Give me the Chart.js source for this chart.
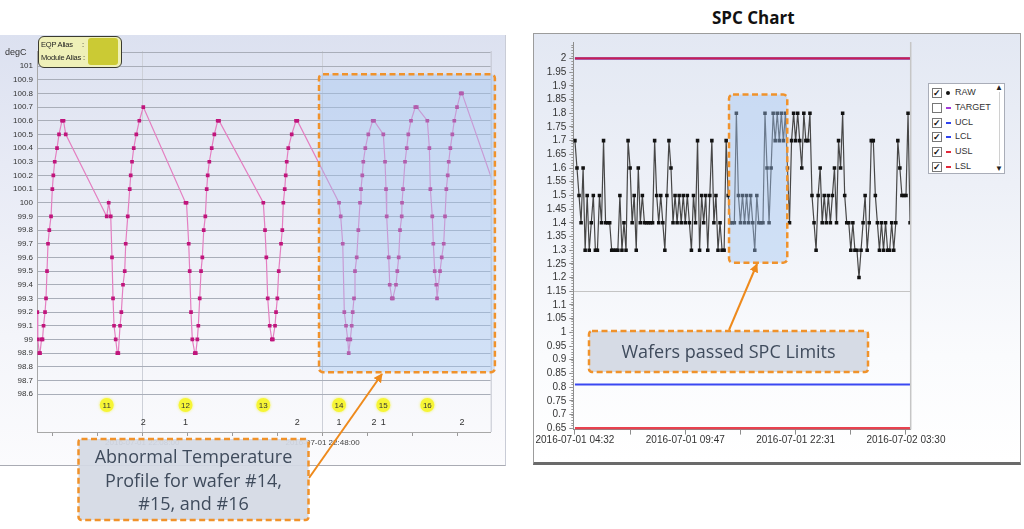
<!DOCTYPE html>
<html>
<head>
<meta charset="utf-8">
<script src="https://cdn.jsdelivr.net/npm/chart.js@4.4.1/dist/chart.umd.min.js"></script>
<style>
  body { margin: 0; width: 1024px; height: 529px; background: #fff; overflow: hidden; position: relative; }
  .abs { position: absolute; }
  #leftPanel { left: 0; top: 35px; width: 506px; height: 431px; box-sizing: border-box;
    border-right: 1px solid #c9ccd6; border-bottom: 1px solid #a9abb3;
    background: linear-gradient(to bottom, #dce1f0 0%, #e7eaf5 30%, #f4f5fa 70%, #fbfbfd 100%); }
  #rightPanel { left: 533px; top: 33px; width: 488px; height: 432px; box-sizing: border-box;
    border: 1px solid #9c9c9c; border-bottom: 3px solid #6a6a6a;
    background: linear-gradient(to bottom, #e3e8f3 0%, #edf0f7 35%, #fafbfd 75%, #ffffff 100%); }
  canvas { position: absolute; }
  .narrow { font-family: "Liberation Sans Narrow", "Liberation Sans", Arial, sans-serif; }
  #eqp { left: 38px; top: 36px; width: 84px; height: 32px; box-sizing: border-box; border: 1.5px solid #3a3a30;
    border-radius: 6px; background: #eff0b8; font-size: 7.5px; letter-spacing: -0.2px; color: #222; }
  #eqp div { position: absolute; white-space: nowrap; }
  #legend { left: 928px; top: 83px; width: 77px; height: 91px; box-sizing: border-box; background: #fff; border: 1px solid #a9adb8;
    font-family: "Liberation Sans", Arial, sans-serif; font-size: 9px; color: #333; }
  .lrow { position: absolute; left: 3px; height: 12px; width: 66px; }
  .chk { position: absolute; left: 0; top: 1px; width: 8px; height: 8px; border: 1px solid #777; background: #fff;
    font-size: 9px; line-height: 8px; text-align: center; color: #111; font-weight: bold; }
  .mk { position: absolute; left: 14px; top: 5px; width: 5px; height: 2px; }
  .lt { position: absolute; left: 23px; top: 0; line-height: 11px; }
  .callText { position: absolute; text-align: center; font-family: "Open Sans", "Noto Sans", sans-serif; font-size: 18px; color: #3f4b5c; }
</style>
</head>
<body>
<div id="leftPanel" class="abs"></div>
<canvas id="tempChart" width="506" height="431" style="left:0;top:35px"></canvas>
<div class="abs narrow" style="left:5px;top:47px;font-size:9px;color:#333">degC</div>
<div id="eqp" class="abs narrow">
  <div style="left:2px;top:3px">EQP Alias</div>
  <div style="left:43px;top:3px">:</div>
  <div style="left:2px;top:16px">Module Alias :</div>
  <div style="left:49px;top:1px;width:30px;height:27px;background:#cbca34;border-radius:3px"></div>
</div>

<div class="abs" style="left:712px;top:6px;font-family:'Open Sans',sans-serif;font-weight:700;font-size:17px;color:#111">SPC Chart</div>
<div id="rightPanel" class="abs"></div>
<canvas id="spcChart" width="488" height="432" style="left:533px;top:33px"></canvas>
<div id="legend" class="abs"></div>

<svg class="abs" width="1024" height="529" style="left:0;top:0;pointer-events:none">
  <defs>
    <marker id="ah" viewBox="0 0 10 10" refX="9" refY="5" markerWidth="4.5" markerHeight="4.5" orient="auto">
      <path d="M0,0 L10,5 L0,10 z" fill="#ee8a1c"/>
    </marker>
  </defs>
  <line x1="309" y1="478" x2="382" y2="374" stroke="#ee8a1c" stroke-width="2" marker-end="url(#ah)"/>
  <line x1="729" y1="330" x2="757" y2="264" stroke="#ee8a1c" stroke-width="2" marker-end="url(#ah)"/>
  <rect x="78.5" y="439" width="230" height="81" rx="3" fill="rgba(212,217,228,0.93)" stroke="#f0922b" stroke-width="2.5" stroke-dasharray="6 3.5"/>
  <rect x="589" y="331" width="279" height="41" rx="3" fill="rgba(212,217,228,0.95)" stroke="#f0922b" stroke-width="2.5" stroke-dasharray="6 3.5"/>
</svg>
<div class="callText" style="left:78px;top:445px;width:231px;line-height:23.5px">Abnormal Temperature<br>Profile for wafer #14,<br>#15, and #16</div>
<div class="callText" style="left:589px;top:331px;width:279px;line-height:41px">Wafers passed SPC Limits</div>

<script>
// ---------- left chart: chamber temperature profile ----------
// minutes after 2016-07-01 21:48:00
const tempMinutes = [
  -3.26, -3.15, -2.82, -2.66, -2.33, -2.11, -1.88, -1.55, -1.33, -1.11, -0.89, -0.60, -0.22, 0.07, 0.29, 0.60, 1.11, 1.55, 2.22, 2.55, 3.04,
  12.13, 12.57, 13.02, 13.30, 13.53, 13.75, 14.12, 14.48, 14.70, 15.08, 15.37, 15.74, 16.12, 16.34, 16.79, 17.23, 17.45, 17.74, 18.12, 18.69, 19.36, 20.24,
  29.60, 29.82, 30.31, 30.53, 30.82, 31.11, 31.66, 31.88, 32.22, 32.44, 32.75, 33.04, 33.33, 33.64, 33.99, 34.30, 34.52, 34.88, 35.41, 35.99, 36.74, 37.03,
  46.85, 47.23, 47.52, 47.83, 48.27, 48.74, 48.96, 49.45, 49.67, 49.96, 50.27, 50.78, 51.06, 51.29, 51.60, 51.82, 52.04, 52.39, 53.15, 54.10, 54.39,
  63.64, 64.01, 64.46, 64.81, 65.19, 65.57, 65.79, 66.14, 66.45, 66.67, 66.96, 67.18, 67.56, 67.92, 68.29, 68.51, 68.80, 69.02, 69.47, 70.13, 71.11, 71.40,
  73.46, 73.84, 74.06, 74.21, 74.66, 74.88, 75.34, 75.57, 76.27, 76.56, 76.87, 77.16, 77.54, 77.61, 77.83, 78.27, 78.65, 79.00, 79.60, 80.55, 80.87,
  83.22, 83.67, 83.89, 84.32, 84.55, 84.86, 85.21, 85.37, 86.03, 86.41, 86.85, 87.14, 87.43, 87.74, 87.96, 88.32, 88.76, 89.20, 89.80, 90.62, 90.91,
  99.33
];
const tempValues = [
  99.2, 99.0, 98.9, 98.9, 99.0, 99.0, 99.1, 99.2, 99.3, 99.5, 99.7, 99.8, 99.9, 100.1, 100.2, 100.3, 100.4, 100.5, 100.6, 100.6, 100.5,
  99.9, 100.0, 99.9, 99.6, 99.3, 99.1, 99.0, 98.9, 98.9, 99.1, 99.2, 99.4, 99.5, 99.7, 99.9, 100.1, 100.2, 100.3, 100.4, 100.5, 100.6, 100.7,
  100.0, 100.0, 99.7, 99.5, 99.2, 99.0, 98.9, 98.9, 99.0, 99.1, 99.3, 99.5, 99.6, 99.8, 99.9, 100.1, 100.2, 100.3, 100.4, 100.5, 100.6, 100.6,
  100.0, 99.8, 99.6, 99.3, 99.1, 99.0, 99.0, 99.1, 99.2, 99.3, 99.5, 99.7, 99.8, 100.0, 100.1, 100.2, 100.3, 100.4, 100.5, 100.6, 100.6,
  100.0, 99.9, 99.7, 99.2, 99.1, 99.0, 98.9, 99.0, 99.1, 99.2, 99.3, 99.5, 99.6, 99.8, 100.0, 100.1, 100.2, 100.3, 100.4, 100.5, 100.6, 100.6,
  100.5, 100.3, 100.1, 99.9, 99.6, 99.4, 99.3, 99.3, 99.4, 99.5, 99.6, 99.8, 99.9, 100.0, 100.1, 100.3, 100.4, 100.5, 100.6, 100.7, 100.7,
  100.6, 100.4, 100.1, 99.9, 99.7, 99.5, 99.4, 99.3, 99.5, 99.6, 99.7, 99.9, 100.1, 100.2, 100.3, 100.4, 100.5, 100.6, 100.7, 100.8, 100.8,
  100.0
];
const waferIds = ['11', '12', '13', '14', '15', '16'];
const waferStart = [12.13, 29.60, 46.85, 63.64, 73.46, 83.22];
const stepLabels = ['2', '1', '2', '1', '2', '1', '2'];
const stepTimes = [20.24, 29.60, 54.39, 63.64, 71.40, 73.46, 90.91];
const tempTickMinutes = [0, 10, 20, 30, 40, 50, 60, 70, 80, 90];
const tempTickLabels = ['', '', '2016-07-01 22:08:00', '', '', '', '2016-07-01 22:48:00', '', '', ''];
const tempMajorMinutes = [20, 60];
const tempYTicks = [98.6, 98.7, 98.8, 98.9, 99, 99.1, 99.2, 99.3, 99.4, 99.5, 99.6, 99.7, 99.8, 99.9,
  100, 100.1, 100.2, 100.3, 100.4, 100.5, 100.6, 100.7, 100.8, 100.9, 101, 101.1];

// ---------- right chart: SPC ----------
const spcRaw = [
  1.7, 1.6, 1.5, 1.4, 1.6, 1.3, 1.5, 1.3, 1.4, 1.5, 1.3, 1.3, 1.5, 1.4, 1.7, 1.4, 1.4, 1.4, 1.3, 1.3, 1.3,
  1.3, 1.5, 1.3, 1.4, 1.3, 1.7, 1.6, 1.4, 1.5, 1.3, 1.6, 1.4, 1.5, 1.4, 1.4, 1.4, 1.4, 1.4,
  1.7, 1.5, 1.4, 1.5, 1.4, 1.3, 1.5, 1.7, 1.6, 1.4, 1.5, 1.4, 1.5, 1.4, 1.5, 1.4,
  1.5, 1.4, 1.3, 1.5, 1.4, 1.7, 1.3, 1.5, 1.4, 1.5, 1.3, 1.5, 1.7, 1.4, 1.5, 1.3, 1.4, 1.3, 1.3, 1.7, 1.5, 1.4,
  1.4, 1.4, 1.8, 1.5, 1.4, 1.5, 1.4, 1.5, 1.4, 1.5, 1.4, 1.3, 1.5, 1.4, 1.4, 1.4,
  1.8, 1.6, 1.4, 1.6, 1.8, 1.7, 1.8, 1.7, 1.8, 1.7, 1.8, 1.6, 1.4, 1.7, 1.8, 1.7,
  1.8, 1.7, 1.6, 1.8, 1.7, 1.7, 1.8, 1.5, 1.4, 1.3, 1.5, 1.6, 1.4, 1.5, 1.4, 1.5, 1.4, 1.5, 1.6, 1.4, 1.7, 1.6, 1.8,
  1.5, 1.4, 1.4, 1.3, 1.4, 1.3, 1.3, 1.2, 1.3, 1.4, 1.5, 1.3, 1.4, 1.7, 1.7, 1.5, 1.4, 1.3,
  1.4, 1.3, 1.4, 1.3, 1.3, 1.4, 1.3, 1.4, 1.7, 1.6, 1.5, 1.5, 1.5, 1.8, 1.4
];
const uslValue = 2.0;
const uclValue = 2.0;
const lclValue = 0.81;
const lslValue = 0.65;
const spcTickIndex = [0, 27, 54, 81, 108, 135, 162];
const spcTickText = ['2016-07-01 04:32', '', '2016-07-01 09:47', '', '2016-07-01 22:31', '', '2016-07-02 03:30'];
const spcYTicks = [0.65, 0.7, 0.75, 0.8, 0.85, 0.9, 0.95, 1, 1.05, 1.1, 1.15, 1.2, 1.25, 1.3, 1.35, 1.4,
  1.45, 1.5, 1.55, 1.6, 1.65, 1.7, 1.75, 1.8, 1.85, 1.9, 1.95, 2];
const legendNames = ['RAW', 'TARGET', 'UCL', 'LCL', 'USL', 'LSL'];
const legendChecked = [true, false, true, true, true, true];
const legendColors = ['#111', '#a23bd8', '#2f43f0', '#2f43f0', '#e2283a', '#e2283a'];

const narrow = '"Liberation Sans Narrow", "Liberation Sans", Arial, sans-serif';
const leftBox = { x0: 59.2, x1: 98.2, y0: 98.76, y1: 100.94 };
const rightBox = { x0: 75.4, x1: 103.9, y0: 1.254, y1: 1.868 };

function drawHighlight(chart, box) {
  const { ctx, scales: { x, y } } = chart;
  const l = x.getPixelForValue(box.x0), r = x.getPixelForValue(box.x1);
  const t = y.getPixelForValue(box.y1), b = y.getPixelForValue(box.y0);
  ctx.save();
  ctx.beginPath();
  ctx.roundRect(l, t, r - l, b - t, 4);
  ctx.fillStyle = 'rgba(160, 196, 240, 0.42)';
  ctx.fill();
  ctx.setLineDash([6, 3.5]);
  ctx.lineWidth = 2.5;
  ctx.strokeStyle = '#f0922b';
  ctx.stroke();
  ctx.restore();
}

const tempOverlay = {
  id: 'tempOverlay',
  afterDraw(chart) {
    const { ctx, chartArea: a, scales: { x } } = chart;
    ctx.save();
    ctx.strokeStyle = '#c3c6cf';
    ctx.lineWidth = 1;
    ctx.beginPath();
    ctx.moveTo(a.right + 0.5, a.top);
    ctx.lineTo(a.right + 0.5, a.bottom);
    ctx.stroke();
    ctx.textAlign = 'center';
    ctx.textBaseline = 'middle';
    waferIds.forEach((id, i) => {
      const px = x.getPixelForValue(waferStart[i]);
      const py = a.bottom - 27;
      ctx.beginPath();
      ctx.arc(px, py, 7, 0, Math.PI * 2);
      ctx.shadowColor = 'rgba(240,240,60,0.8)';
      ctx.shadowBlur = 3;
      ctx.fillStyle = '#f6f535';
      ctx.fill();
      ctx.shadowBlur = 0;
      ctx.fillStyle = '#333';
      ctx.font = '8px ' + narrow;
      ctx.fillText(id, px, py + 0.5);
    });
    ctx.font = '9px ' + narrow;
    ctx.fillStyle = '#333';
    stepLabels.forEach((s, i) => {
      ctx.fillText(s, x.getPixelForValue(stepTimes[i]), a.bottom - 9);
    });
    ctx.restore();
    drawHighlight(chart, leftBox);
  }
};

new Chart(document.getElementById('tempChart'), {
  type: 'line',
  data: {
    datasets: [{
      data: tempMinutes.map((m, i) => ({ x: m, y: tempValues[i] })),
      borderColor: '#e47fc1',
      borderWidth: 1.2,
      pointStyle: 'rect',
      pointRadius: 2.6,
      pointBackgroundColor: '#c0157c',
      pointBorderColor: '#c0157c',
      pointBorderWidth: 0,
      tension: 0
    }]
  },
  options: {
    responsive: false,
    animation: false,
    layout: { padding: { left: 0, top: 16, right: 15.3, bottom: 0 } },
    plugins: { legend: { display: false }, tooltip: { enabled: false } },
    scales: {
      x: {
        type: 'linear', min: -3.33, max: 97.27,
        afterBuildTicks: s => { s.ticks = tempTickMinutes.map(v => ({ value: v })); },
        afterFit: s => { s.height = 34; },
        grid: {
          color: c => (c.tick && tempMajorMinutes.includes(c.tick.value)) ? '#cdd0d8' : 'transparent',
          tickColor: '#9a9a9a', tickLength: 4
        },
        border: { color: '#a8a8a8' },
        ticks: {
          callback: (v, i) => tempTickLabels[i],
          maxRotation: 0, autoSkip: false, padding: 2,
          font: { family: narrow, size: 8 }, color: '#444'
        }
      },
      y: {
        min: 98.323, max: 101.11,
        afterBuildTicks: s => { s.ticks = tempYTicks.map(v => ({ value: v })); },
        afterFit: s => { s.width = 37; },
        grid: { color: '#a9aeb9', drawTicks: false },
        border: { color: '#a8a8a8' },
        ticks: {
          callback: v => v > 101.05 ? '' : String(Number(v.toFixed(1))),
          autoSkip: false, padding: 4,
          font: { family: narrow, size: 8 }, color: '#333'
        }
      }
    }
  },
  plugins: [tempOverlay]
});

const spcOverlay = {
  id: 'spcOverlay',
  afterDraw(chart) {
    const { ctx, chartArea: a, scales: { y } } = chart;
    ctx.save();
    ctx.strokeStyle = '#c6c6c6';
    ctx.lineWidth = 1.5;
    ctx.beginPath();
    ctx.moveTo(a.right, a.top);
    ctx.lineTo(a.right, a.bottom);
    ctx.stroke();
    ctx.strokeStyle = '#9a9a9a';
    ctx.lineWidth = 1;
    ctx.beginPath();
    for (let k = 65; k <= 205; k++) {
      const py = Math.round(y.getPixelForValue(k / 100)) + 0.5;
      ctx.moveTo(a.left - 2, py);
      ctx.lineTo(a.left, py);
    }
    ctx.stroke();
    ctx.restore();
    drawHighlight(chart, rightBox);
  }
};

const limitLine = (val, color, width) => ({
  data: spcRaw.map((_, i) => ({ x: i, y: val })),
  borderColor: color, borderWidth: width, pointRadius: 0, tension: 0
});

// dataset 0 is painted last (on top)
new Chart(document.getElementById('spcChart'), {
  type: 'line',
  data: {
    datasets: [
      {
        data: spcRaw.map((v, i) => ({ x: i, y: v })),
        borderColor: '#474747',
        borderWidth: 1.2,
        pointStyle: 'rect',
        pointRadius: 2.5,
        pointBackgroundColor: '#111',
        pointBorderColor: '#111',
        pointBorderWidth: 0,
        tension: 0
      },
      limitLine(uslValue, '#c81e55', 2.2),
      limitLine(uclValue, '#2f43f0', 2),
      limitLine(lslValue, '#e8424f', 2.5),
      limitLine(lclValue, '#3a48f2', 2)
    ]
  },
  options: {
    responsive: false,
    animation: false,
    layout: { padding: { left: 0, top: 4.4, right: 110.3, bottom: 0 } },
    plugins: { legend: { display: false }, tooltip: { enabled: false } },
    scales: {
      x: {
        type: 'linear', min: -0.8, max: 164.3,
        afterBuildTicks: s => { s.ticks = spcTickIndex.map(v => ({ value: v })); },
        afterFit: s => { s.height = 35.4; },
        grid: { drawOnChartArea: false, tickLength: 5, color: '#8d8d8d' },
        border: { color: '#8d8d8d' },
        ticks: {
          callback: (v, i) => spcTickText[i],
          maxRotation: 0, autoSkip: false, padding: 0,
          font: { family: narrow, size: 10 }, color: '#333'
        }
      },
      y: {
        min: 0.645, max: 2.06,
        afterBuildTicks: s => { s.ticks = spcYTicks.map(v => ({ value: v })); },
        afterFit: s => { s.width = 40.3; },
        grid: {
          color: c => (c.tick && Math.abs(c.tick.value - 1.15) < 1e-6) ? '#c4c4c4' : 'transparent',
          tickColor: '#8d8d8d', tickLength: 4
        },
        border: { color: '#8d8d8d' },
        ticks: {
          callback: v => String(Number(v.toFixed(2))),
          autoSkip: false, padding: 3,
          font: { family: narrow, size: 10 }, color: '#333'
        }
      }
    }
  },
  plugins: [spcOverlay]
});

// legend box
const legend = document.getElementById('legend');
legendNames.forEach((name, i) => {
  const row = document.createElement('div');
  row.className = 'lrow';
  row.style.top = (3 + i * 14.8) + 'px';
  const chk = document.createElement('div');
  chk.className = 'chk';
  chk.textContent = legendChecked[i] ? '✓' : '';
  const mk = document.createElement('div');
  mk.className = 'mk';
  mk.style.background = legendColors[i];
  if (i === 0) { mk.style.width = '4px'; mk.style.height = '4px'; mk.style.top = '4px'; mk.style.borderRadius = '2px'; }
  const lt = document.createElement('div');
  lt.className = 'lt';
  lt.textContent = name;
  row.appendChild(chk);
  row.appendChild(mk);
  row.appendChild(lt);
  legend.appendChild(row);
});
const upArrow = document.createElement('div');
upArrow.style.cssText = 'position:absolute;right:1px;top:0;font-size:8px;line-height:8px;color:#222';
upArrow.textContent = '▲';
const downArrow = document.createElement('div');
downArrow.style.cssText = 'position:absolute;right:1px;bottom:0;font-size:8px;line-height:8px;color:#222';
downArrow.textContent = '▼';
const track = document.createElement('div');
track.style.cssText = 'position:absolute;right:4px;top:8px;bottom:8px;width:1px;background:#d0d0d0';
legend.appendChild(track);
legend.appendChild(upArrow);
legend.appendChild(downArrow);
</script>
</body>
</html>
